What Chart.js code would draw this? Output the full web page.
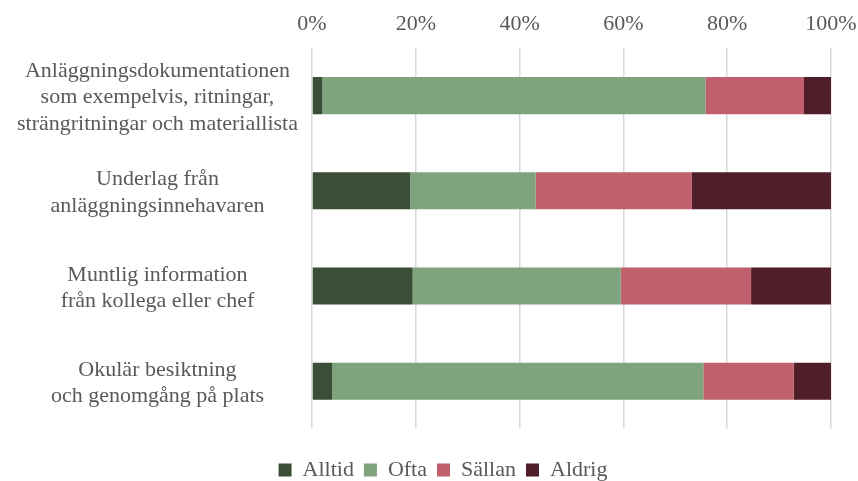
<!DOCTYPE html>
<html>
<head>
<meta charset="utf-8">
<script src="https://cdn.jsdelivr.net/npm/chart.js@4/dist/chart.umd.min.js"></script>
<style>
html,body{margin:0;padding:0;background:#fff;}
#wrap{width:858px;height:481px;}
</style>
</head>
<body>
<div id="wrap"><canvas id="c" width="858" height="481"></canvas></div>
<script>
const categories = [
  ["Anläggningsdokumentationen", "som exempelvis, ritningar,", "strängritningar och materiallista"],
  ["Underlag från", "anläggningsinnehavaren"],
  ["Muntlig information", "från kollega eller chef"],
  ["Okulär besiktning", "och genomgång på plats"]
];
const seriesNames = ["Alltid", "Ofta", "Sällan", "Aldrig"];
const alltid = [2.0, 18.9, 19.4, 3.9];
const ofta   = [73.8, 24.2, 40.1, 71.5];
const sallan = [19.0, 30.1, 25.1, 17.4];
const aldrig = [5.2, 26.8, 15.4, 7.2];
const tickValues = [0, 20, 40, 60, 80, 100];

const colors = ["#3a4f36", "#7ea37d", "#c0606c", "#4f1e29"];
const values = [alltid, ofta, sallan, aldrig];
const textColor = "#595959";
const fontFamily = "'Liberation Serif', 'Times New Roman', serif";

const unclipYLabels = {
  id: 'unclipYLabels',
  afterLayout(chart) { chart.scales.y.left = 0; }
};

new Chart(document.getElementById('c'), {
  type: 'bar',
  plugins: [unclipYLabels],
  data: {
    labels: categories,
    datasets: seriesNames.map((n, i) => ({
      label: n,
      data: values[i],
      backgroundColor: colors[i],
      borderWidth: 0,
      categoryPercentage: 1,
      barPercentage: 0.39
    }))
  },
  options: {
    indexAxis: 'y',
    responsive: false,
    animation: false,
    maintainAspectRatio: false,
    layout: { padding: { top: 0, right: 27, bottom: -10, left: 55 } },
    plugins: {
      tooltip: { enabled: false },
      legend: {
        position: 'bottom',
        title: { display: true, text: '', font: { size: 1 }, padding: { top: 19, bottom: 0 } },
        labels: {
          color: textColor,
          font: { family: fontFamily, size: 22 },
          boxWidth: 13,
          boxHeight: 13,
          padding: 10
        }
      }
    },
    scales: {
      x: {
        position: 'top',
        stacked: true,
        min: 0,
        max: 100,
        afterBuildTicks: (s) => { s.ticks = tickValues.map(v => ({ value: v })); },
        afterFit: (s) => { s.paddingLeft = 0; s.paddingRight = 0; s.height = 48; },
        ticks: {
          color: textColor,
          font: { family: fontFamily, size: 22 },
          callback: (v) => v + '%',
          padding: 11,
          maxRotation: 0
        },
        grid: { color: '#d9d9d9', lineWidth: 1.5, drawTicks: false },
        border: { display: false }
      },
      y: {
        stacked: true,
        afterFit: (s) => { s.width = 257; s.paddingTop = 0; s.paddingBottom = 0; },
        ticks: {
          color: textColor,
          font: { family: fontFamily, size: 22, lineHeight: 1.2 },
          crossAlign: 'center',
          padding: 14,
          labelOffset: 2
        },
        grid: { display: false, drawTicks: false },
        border: { display: false }
      }
    }
  }
});
</script>
</body>
</html>
